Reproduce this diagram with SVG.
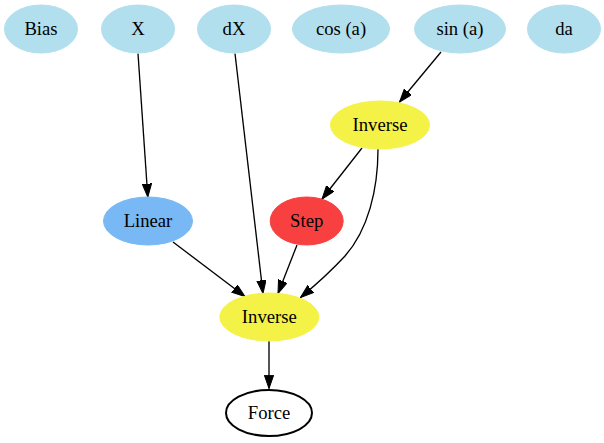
<svg xmlns="http://www.w3.org/2000/svg" width="604" height="443" viewBox="0 0 604 443">
<style>
text{font-family:"Liberation Serif","Times New Roman",serif;font-size:18.67px;fill:#000;text-anchor:middle}
.in{fill:#b2dfee;stroke:#b2dfee}
.inv{fill:#f5f247;stroke:#f5f247}
.lin{fill:#78b8f5;stroke:#78b8f5}
.step{fill:#f84040;stroke:#f84040}
.out{fill:#fff;stroke:#000;stroke-width:2}
.e{fill:none;stroke:#000;stroke-width:1.33}
</style>
<defs>
<marker id="ah" markerUnits="userSpaceOnUse" markerWidth="14" markerHeight="10" refX="13.3" refY="4.67" orient="auto">
<path d="M0,0 L13.3,4.67 L0,9.33 z" fill="#000" stroke="#000" stroke-width="1"/>
</marker>
</defs>
<rect width="604" height="443" fill="#fff"/>
<g id="connectors">
<path class="e" marker-end="url(#ah)" d="M138,53.5 L147.8,197"/>
<path class="e" marker-end="url(#ah)" d="M235,53.5 L263,293.5"/>
<path class="e" marker-end="url(#ah)" d="M441,52 L399.5,102"/>
<path class="e" marker-end="url(#ah)" d="M362,148 L322,199"/>
<path class="e" marker-end="url(#ah)" d="M378,149 C378,190 368,230 345,256 C333,269 318,283 300.5,297.5"/>
<path class="e" marker-end="url(#ah)" d="M173,242 L245,296.5"/>
<path class="e" marker-end="url(#ah)" d="M297,245 L278,293.5"/>
<path class="e" marker-end="url(#ah)" d="M269,341 L269,388.5"/>
</g>
<g id="node-bias"><ellipse class="in" cx="41" cy="29" rx="36.5" ry="24"/><text x="41" y="35">Bias</text></g>
<g id="node-x"><ellipse class="in" cx="138" cy="29" rx="36.5" ry="24"/><text x="138" y="35">X</text></g>
<g id="node-dx"><ellipse class="in" cx="234" cy="29" rx="36.5" ry="24"/><text x="234" y="35">dX</text></g>
<g id="node-cos"><ellipse class="in" cx="341" cy="29" rx="48.5" ry="24"/><text x="341" y="35">cos (a)</text></g>
<g id="node-sin"><ellipse class="in" cx="460" cy="29" rx="45.5" ry="24"/><text x="460" y="35">sin (a)</text></g>
<g id="node-da"><ellipse class="in" cx="564" cy="29" rx="36.5" ry="24"/><text x="564" y="35">da</text></g>
<g id="node-inverse1"><ellipse class="inv" cx="380" cy="125" rx="49.5" ry="24"/><text x="380" y="131">Inverse</text></g>
<g id="node-linear"><ellipse class="lin" cx="148" cy="221" rx="44.5" ry="24"/><text x="148" y="227">Linear</text></g>
<g id="node-step"><ellipse class="step" cx="306.7" cy="221" rx="36.5" ry="24"/><text x="306.7" y="227">Step</text></g>
<g id="node-inverse2"><ellipse class="inv" cx="269.3" cy="317" rx="49.5" ry="24"/><text x="269.3" y="323">Inverse</text></g>
<g id="node-force"><ellipse class="out" cx="269" cy="413" rx="43" ry="23"/><text x="269" y="419">Force</text></g>
</svg>
